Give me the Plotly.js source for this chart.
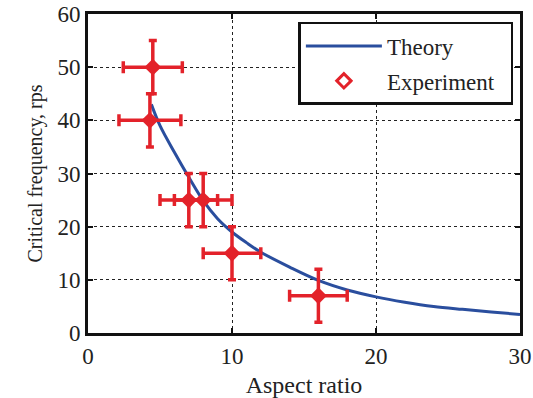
<!DOCTYPE html>
<html>
<head>
<meta charset="utf-8">
<script src="https://cdn.plot.ly/plotly-3.0.1.min.js"></script>
<style>html,body{margin:0;padding:0;background:#fff;}#chart{width:533px;height:398px;}</style>
</head>
<body>
<div id="chart"></div>
<script>
// Theory curve
const theoryX = [4.4, 5, 6, 7, 8, 9, 10, 11, 12, 14, 16, 18, 20, 22, 24, 26, 28, 30];
const theoryY = [43.0, 39.0, 34.0, 29.3, 24.9, 21.5, 19.0, 17.0, 15.2, 12.4, 9.9, 8.1, 6.8, 5.8, 5.0, 4.45, 3.95, 3.5];
// Experiment
const expX = [4.5, 4.3, 7, 8, 10, 16];
const expY = [50, 40, 25, 25, 15, 7];
const expXErr = [2.05, 2.15, 2, 2, 2, 2];
const expYErr = [5, 5, 5, 5, 5, 5];
const legendNames = ['Theory', 'Experiment'];

const blue = '#2a4e9e';
const red = '#e3222a';
const fam = '"Liberation Serif", "Times New Roman", serif';
const tickFont = {family: fam, size: 23, color: '#222'};
const xTitleFont = {family: fam, size: 24, color: '#222'};
const yTitleFont = {family: fam, size: 20, color: '#222'};
const legFont = {family: fam, size: 23, color: '#222'};

const traces = [
  {x: theoryX, y: theoryY, type: 'scatter', mode: 'lines', name: legendNames[0],
   line: {color: blue, width: 3, shape: 'spline', smoothing: 1}, legendgroup: 'a'},
  {x: expX, y: expY, type: 'scatter', mode: 'markers', name: legendNames[1], showlegend: false,
   marker: {symbol: 'diamond', size: 13, color: red},
   error_x: {type: 'data', array: expXErr, visible: true, color: red, thickness: 3.5, width: 6},
   error_y: {type: 'data', array: expYErr, visible: true, color: red, thickness: 3.5, width: 4}},
  {x: [null], y: [null], type: 'scatter', mode: 'markers', name: legendNames[1] + '\u00a0\u00a0', legendgroup: 'b',
   marker: {symbol: 'diamond-open', size: 11, color: red, line: {width: 3, color: red}}}
];

const axisCommon = {
  showline: true, linecolor: '#111', linewidth: 3, mirror: 'ticks',
  ticks: 'inside', ticklen: 5, tickwidth: 2, tickcolor: '#111',
  showgrid: true, gridcolor: '#222', griddash: 'dot', gridwidth: 1,
  zeroline: false, tickfont: tickFont
};

const layout = {
  width: 533, height: 398,
  margin: {l: 88, r: 13, t: 14, b: 65},
  paper_bgcolor: '#fff', plot_bgcolor: '#fff',
  font: tickFont,
  xaxis: Object.assign({}, axisCommon, {range: [0, 30], tickvals: [0, 10, 20, 30],
    title: {text: 'Aspect ratio', font: xTitleFont, standoff: 10}}),
  yaxis: Object.assign({}, axisCommon, {range: [0, 60], tickvals: [0, 10, 20, 30, 40, 50, 60],
    title: {text: 'Critical frequency, rps', font: yTitleFont, standoff: 10}}),
  legend: {x: 0.487, y: 0.975, xanchor: 'left', yanchor: 'top',
    bordercolor: '#111', borderwidth: 2.5, bgcolor: '#fff',
    font: legFont, itemwidth: 76, tracegroupgap: 2},
  showlegend: true
};

Plotly.newPlot('chart', traces, layout, {displayModeBar: false, staticPlot: true});
</script>
</body>
</html>
